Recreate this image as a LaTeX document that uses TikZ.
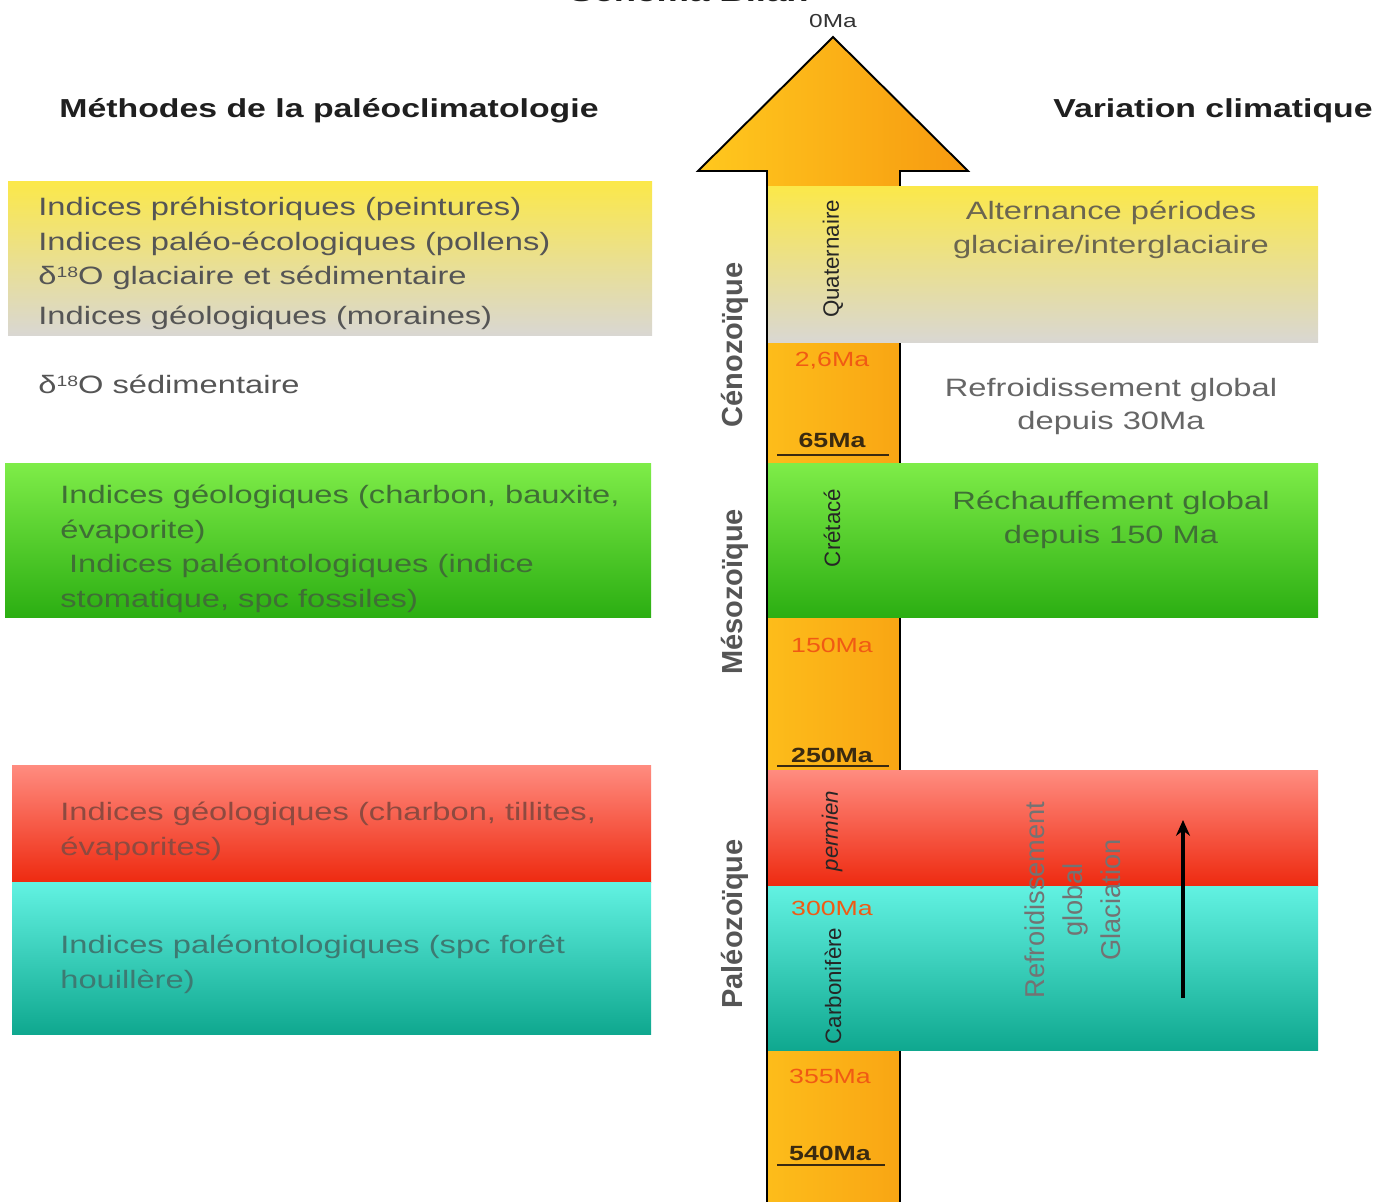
\documentclass[tikz,border=0pt]{standalone}
\usepackage{fontspec}
\setmainfont{Liberation Sans}
\newfontfamily\etire[FakeStretch=1.3]{Liberation Sans}
\usetikzlibrary{arrows.meta,positioning,calc}
\definecolor{jauneF}{HTML}{FBE84A}
\definecolor{grisF}{HTML}{D9D7D3}
\definecolor{vertH}{HTML}{7EEC48}
\definecolor{vertB}{HTML}{2BAE12}
\definecolor{rougeH}{HTML}{FF8C80}
\definecolor{rougeB}{HTML}{EE2A10}
\definecolor{turqH}{HTML}{62F2E2}
\definecolor{turqB}{HTML}{0FA88F}
\definecolor{flecheG}{HTML}{FFC81E}
\definecolor{flecheD}{HTML}{F79A10}
\definecolor{maOrange}{HTML}{F05A14}
\definecolor{maBrun}{HTML}{3A2A10}
\definecolor{grisT}{HTML}{555555}
\definecolor{texteV}{HTML}{3F6F35}
\definecolor{texteR}{HTML}{8E4A40}
\definecolor{texteT}{HTML}{3D7A72}
\definecolor{texteJ}{HTML}{6B6650}
\newcommand{\isot}{δ\raisebox{0.55ex}{\fontsize{8.5}{9}\selectfont 18}O}
\tikzset{
  bande/.style 2 args={top color=#1, bottom color=#2, draw=none},
  methode/.style={anchor=north west, align=left, inner sep=0pt, text=#1,
                  font=\etire\fontsize{14.3}{19.6}\selectfont},
  variation/.style={anchor=north, align=center, inner sep=0pt, text=#1,
                    font=\etire\fontsize{14.3}{19}\selectfont},
  titre/.style={anchor=base, inner sep=0pt, text=black!88,
                font=\etire\bfseries\fontsize{14.8}{18}\selectfont},
  ere/.style={rotate=90, inner sep=0pt, text=grisT,
              font=\bfseries\fontsize{16.5}{20}\selectfont},
  periode/.style={rotate=90, inner sep=0pt, text=black!85,
                  font=\fontsize{12.7}{15}\selectfont},
  age/.style={anchor=base, inner sep=0pt, text=maOrange,
              font=\etire\fontsize{11.7}{14}\selectfont},
  agefort/.style={anchor=base, inner sep=0pt, text=maBrun,
                  font=\etire\bfseries\fontsize{11.7}{14}\selectfont},
  regle/.style={line width=1.2pt, draw=maBrun},
  arr/.style={-{Stealth[length=9pt, width=8pt]}, line width=1.8pt, draw=black},
}
\begin{document}
\begin{tikzpicture}[x=0.02cm, y=-0.02cm]
  \useasboundingbox (0,0) rectangle (1390,1202);

  % grande fleche du temps
  \shade[left color=flecheG, right color=flecheD, draw=black, line width=1.1pt]
    (767,1210) -- (767,171) -- (698,171) -- (833,37) -- (968,171) -- (900,171) -- (900,1210);

  % bandes de gauche
  \shade[bande={jauneF}{grisF}] (8,182) rectangle (652,336);
  \shade[bande={vertH}{vertB}] (5,464) rectangle (651,618);
  \shade[bande={rougeH}{rougeB}] (12,765) rectangle (651,882);
  \shade[bande={turqH}{turqB}] (12,882) rectangle (651,1034);
  % bandes de droite
  \shade[bande={jauneF}{grisF}] (767,187) rectangle (1318,343);
  \shade[bande={vertH}{vertB}] (767,464) rectangle (1318,618);
  \shade[bande={rougeH}{rougeB}] (767,770) rectangle (1318,886);
  \shade[bande={turqH}{turqB}] (767,886) rectangle (1318,1050);
  \draw[line width=1.1pt] (767,171) -- (767,1210);

  % titres
  \node[titre, font=\etire\bfseries\fontsize{16}{18}\selectfont] (bilan) at (689,2) {Schéma Bilan};
  \node[titre] (methodes) at (329,118) {Méthodes de la paléoclimatologie};
  \node[titre] (variation) at (1213,118) {Variation climatique};

  % methodes
  \node[methode=grisT] (quat) at (38,197)
    {Indices préhistoriques (peintures)\\
     Indices paléo-écologiques (pollens)\\
     \isot{} glaciaire et sédimentaire\\[3pt]
     Indices géologiques (moraines)};
  \node[methode=grisT] (sedim) at (38,375) {\isot{} sédimentaire};
  \node[methode=texteV] (cretace) at (60,485)
    {Indices géologiques (charbon, bauxite,\\
     évaporite)\\
     \hspace*{5pt}Indices paléontologiques (indice\\
     stomatique, spc fossiles)};
  \node[methode=texteR] (permien) at (60,802)
    {Indices géologiques (charbon, tillites,\\
     évaporites)};
  \node[methode=texteT] (carbo) at (60,935)
    {Indices paléontologiques (spc forêt\\
     houillère)};

  % variations
  \node[variation=texteJ] (alternance) at (1111,201)
    {Alternance périodes\\glaciaire/interglaciaire};
  \node[variation=grisT!90] (refroid) at (1111,378)
    {Refroidissement global\\depuis 30Ma};
  \node[variation=texteV] (rechauf) at (1111,491)
    {Réchauffement global\\depuis 150 Ma};
  \node[rotate=90, align=center, inner sep=0pt, text=black!55,
        font=\fontsize{15.5}{21.5}\selectfont] (glaciation) at (1073,900)
    {Refroidissement\\global\\Glaciation};
  \coordinate (glaceBas) at (1183,998);
  \coordinate (glaceHaut) at (1183,820);
  \draw[arr] (glaceBas) -- (glaceHaut);

  % eres et periodes
  \node[ere] (ceno) at (735,345) {Cénozoïque};
  \node[ere] (meso) at (735,592) {Mésozoïque};
  \node[ere] (paleo) at (735,924) {Paléozoïque};
  \node[periode] (pQuat) at (833,259) {Quaternaire};
  \node[periode] (pCret) at (832,528) {Crétacé};
  \node[periode, font=\itshape\fontsize{12.7}{15}\selectfont] (pPerm) at (832,831) {permien};
  \node[periode] (pCarb) at (833,986) {Carbonifère};

  % ages
  \node[agefort, font=\etire\fontsize{10.7}{12}\selectfont, text=black!80] (a0) at (833,28) {0Ma};
  \node[age] (a2) at (832,367) {2,6Ma};
  \node[agefort] (a65) at (832,448) {65Ma};
  \node[age] (a150) at (832,653) {150Ma};
  \node[agefort] (a250) at (832,762) {250Ma};
  \node[age] (a300) at (832,915) {300Ma};
  \node[age] (a355) at (830,1083) {355Ma};
  \node[agefort] (a540) at (830,1160) {540Ma};
  \draw[regle] (777,455) -- (889,455);
  \draw[regle] (777,766) -- (889,766);
  \draw[regle] (777,1165) -- (885,1165);
\end{tikzpicture}
\end{document}
